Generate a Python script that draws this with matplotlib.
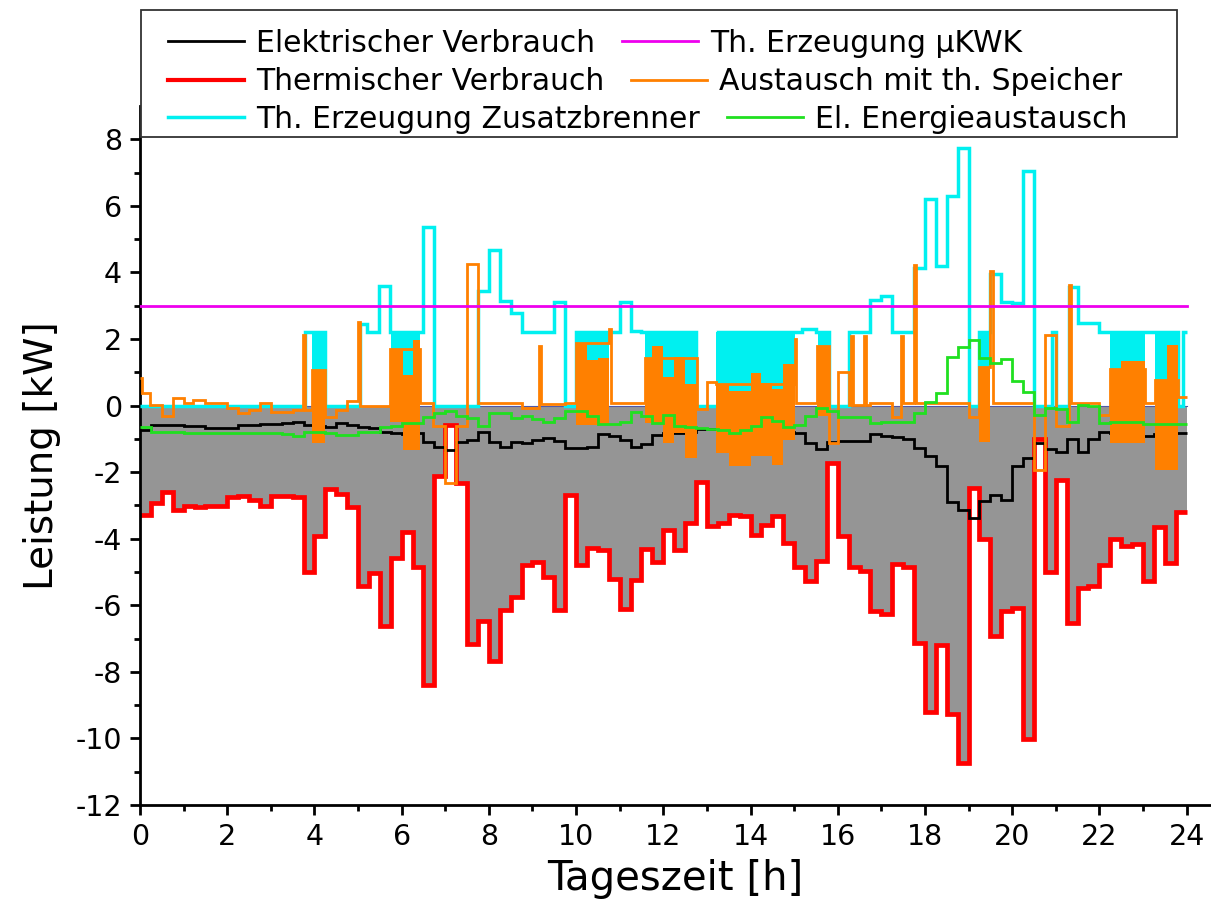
import numpy as np
import matplotlib
matplotlib.use('Agg')
import matplotlib.pyplot as plt
from matplotlib.lines import Line2D
from matplotlib.patches import Rectangle

plt.rcParams['font.family'] = 'DejaVu Sans'
plt.rcParams['axes.unicode_minus'] = False

# 15-min time grid
edges = np.arange(97) * 0.25

# Thermischer Verbrauch [kW], 15-min values
therm = [-3.28, -2.93, -2.61, -3.13, -3.01, -3.06, -3.01, -3.01,
         -2.75, -2.71, -2.83, -3.03, -2.71, -2.71, -2.76, -5.01,
         -3.93, -2.50, -2.66, -3.05, -5.41, -5.03, -6.61, -4.58,
         -3.81, -4.86, -8.38, -2.13, -0.58, -2.33, -7.15, -6.46,
         -7.68, -6.15, -5.75, -4.78, -4.71, -5.15, -6.13, -2.68,
         -4.78, -4.28, -4.35, -5.21, -6.11, -5.23, -4.31, -4.71,
         -3.73, -4.35, -3.53, -2.31, -3.61, -3.53, -3.30, -3.33,
         -3.88, -3.58, -3.33, -4.13, -4.86, -5.28, -4.68, -1.73,
         -3.93, -4.85, -4.98, -6.18, -6.25, -4.75, -4.85, -7.13,
         -9.21, -7.18, -9.28, -10.75, -2.48, -4.01, -6.93, -6.18,
         -6.08, -10.03, -1.01, -5.01, -2.23, -6.53, -5.48, -5.41,
         -4.80, -4.01, -4.23, -4.16, -5.26, -3.65, -4.73, -3.20]

# Elektrischer Verbrauch [kW]
elec = [-0.74, -0.59, -0.59, -0.59, -0.61, -0.61, -0.68, -0.68,
        -0.68, -0.59, -0.57, -0.55, -0.55, -0.53, -0.50, -0.57,
        -0.61, -0.63, -0.53, -0.57, -0.65, -0.66, -0.78, -0.83,
        -0.85, -0.83, -1.08, -1.25, -1.33, -1.08, -1.03, -0.78,
        -1.08, -1.23, -1.08, -1.11, -1.03, -0.96, -1.05, -1.28,
        -1.28, -1.23, -0.86, -0.91, -1.03, -1.25, -1.15, -0.88,
        -0.83, -0.81, -0.80, -0.71, -0.71, -0.78, -0.85, -0.90,
        -0.85, -0.80, -0.78, -0.80, -0.83, -1.13, -1.31, -1.10,
        -1.05, -1.05, -1.05, -0.86, -0.91, -0.93, -1.01, -1.28,
        -1.53, -1.81, -2.91, -3.15, -3.38, -2.88, -2.69, -2.83,
        -1.83, -1.58, -1.11, -1.31, -1.38, -1.01, -1.38, -1.01,
        -0.78, -0.81, -0.91, -0.96, -0.91, -0.86, -0.83, -0.83]

# El. Energieaustausch [kW]
el_exch = [-0.65, -0.78, -0.78, -0.78, -0.81, -0.81, -0.81, -0.81,
           -0.81, -0.81, -0.83, -0.83, -0.83, -0.85, -0.90, -0.78,
           -0.78, -0.81, -0.88, -0.88, -0.78, -0.78, -0.65, -0.61,
           -0.53, -0.53, -0.35, -0.23, -0.15, -0.31, -0.38, -0.61,
           -0.23, -0.23, -0.38, -0.31, -0.41, -0.48, -0.38, -0.15,
           -0.15, -0.31, -0.55, -0.55, -0.48, -0.18, -0.31, -0.53,
           -0.28, -0.61, -0.65, -0.68, -0.71, -0.73, -0.81, -0.73,
           -0.61, -0.33, -0.45, -0.65, -0.58, -0.31, -0.08, -0.15,
           -0.33, -0.33, -0.33, -0.53, -0.50, -0.50, -0.50, -0.23,
           0.12, 0.39, 1.47, 1.75, 1.97, 1.42, 1.27, 1.39,
           0.75, 0.42, -0.28, -0.08, -0.10, -0.48, 0.02, 0.00,
           -0.53, -0.50, -0.50, -0.48, -0.56, -0.56, -0.56, -0.56]

# Th. Erzeugung uKWK (constant)
chp_power = 3.0

# Th. Erzeugung Zusatzbrenner: change times [h] and values [kW]
burner_t = [0, 3.78, 4.24, 5.05, 5.2, 5.47, 5.73, 6.5, 6.75, 7.76,
            8.0, 8.25, 8.5, 8.75, 9.5, 9.75, 10.0, 11.0, 11.25, 11.5,
            12.75, 13.25, 15.17, 15.5, 15.8, 16.25, 16.75, 17.0, 17.25, 17.75,
            18.0, 18.25, 18.5, 18.75, 19.0, 19.25, 19.5, 19.75, 20.0, 20.25,
            20.5, 20.92, 21.0, 21.3, 21.5, 22.0, 23.8, 23.92]
burner_v = [0, 2.2, 0, 2.44, 2.2, 3.6, 2.2, 5.37, 0, 3.45,
            4.67, 3.15, 2.79, 2.2, 3.12, 0, 2.2, 3.12, 2.24, 2.2,
            0, 2.2, 2.3, 2.2, 0, 2.2, 3.17, 3.29, 2.2, 4.14,
            6.22, 4.19, 6.29, 7.75, 0, 2.2, 3.95, 3.12, 3.09, 7.05,
            0, 2.2, 0, 3.55, 2.47, 2.2, 0, 2.2]
# intervals where the burner is cycling on/off (0 <-> 2.2 kW)
burner_cyc_start = [3.94, 5.75, 10.0, 11.58, 13.22, 15.55, 19.25, 22.25, 23.28]
burner_cyc_end = [4.24, 6.42, 10.75, 12.77, 15.02, 15.8, 19.5, 23.05, 23.8]
burner_cyc_level = 2.2

# Austausch mit th. Speicher: change times [h] and values [kW]
store_t = [0, 0.04, 0.23, 0.5, 0.76, 1.0, 1.22, 1.49, 2.0, 2.25,
           2.5, 2.75, 3.0, 3.5, 3.73, 3.78, 3.94, 4.24, 4.5, 4.75,
           5.0, 5.05, 5.73, 6.42, 6.73, 7.0, 7.25, 7.5, 7.76, 8.75,
           9.15, 9.2, 9.75, 10.0, 10.75, 10.8, 11.58, 12.77, 13.0, 13.22,
           15.02, 15.05, 15.52, 15.8, 16.0, 16.25, 16.3, 16.34, 16.6, 16.64,
           16.75, 17.25, 17.45, 17.5, 17.74, 17.8, 19.0, 19.25, 19.5, 19.57,
           20.5, 20.75, 21.0, 21.3, 21.35, 22.0, 22.25, 23.05, 23.28, 23.8]
store_v = [0.82, 0.37, 0.02, -0.31, 0.24, 0.09, 0.17, 0.09, -0.08, -0.21,
           -0.13, 0.09, -0.18, -0.13, 2.12, -0.13, 1.07, -0.34, -0.12, 0.13,
           2.52, 0.0, 1.69, 0.09, -0.62, -2.32, -0.62, 4.25, 0.09, -0.08,
           1.79, 0.05, 0.07, 1.87, 2.29, 0.09, 1.44, -0.10, 0.72, 0.65,
           1.99, 0.07, 1.79, -1.13, 1.02, 0.02, 2.1, 0.02, 2.1, 0.02,
           0.09, -0.33, 2.1, 0.09, 4.22, 0.09, -0.35, 1.15, 4.05, 0.09,
           -1.93, 2.12, -0.61, 3.62, 0.09, -0.28, 1.09, 0.09, 0.77, 0.27]
# cycling intervals of the storage exchange: start, end, min, max [kW]
store_cyc_start = [3.94, 5.73, 6.04, 6.27, 10.0, 10.25, 10.5, 11.58, 11.75, 12.0,
                   12.25, 12.5, 13.22, 13.5, 14.0, 14.25, 14.5, 14.75, 15.52, 19.25,
                   22.25, 22.5, 23.28, 23.55]
store_cyc_end = [4.24, 6.04, 6.27, 6.42, 10.25, 10.5, 10.75, 11.75, 12.0, 12.25,
                 12.5, 12.77, 13.5, 14.0, 14.25, 14.5, 14.75, 15.02, 15.8, 19.5,
                 22.5, 23.05, 23.55, 23.8]
store_cyc_lo = [-1.13, -0.5, -1.33, -1.33, -0.58, -0.58, -0.58, -0.53, -0.53, -1.13,
                -0.83, -1.58, -1.43, -1.81, -1.53, -1.53, -1.78, -1.03, -0.3, -1.08,
                -1.13, -1.13, -1.93, -1.93]
store_cyc_hi = [1.07, 1.69, 0.92, 1.97, 1.87, 1.37, 1.44, 1.44, 1.79, 0.85,
                1.47, 0.65, 0.65, 0.44, 0.99, 0.69, 0.49, 1.24, 1.79, 1.15,
                1.09, 1.34, 0.77, 1.82]

C_RED = '#ff0000'
C_CYAN = '#00f0f0'
C_ORANGE = '#ff8000'
C_GREEN = '#20e020'
C_MAG = '#ee00ee'
C_GRAY = '#959595'

fig = plt.figure(figsize=(12.11, 9.17), dpi=100)
ax = fig.add_axes([140/1211, 112/917, 1071/1211, 699/917])

# gray area: thermal demand
ax.stairs(therm, edges, baseline=0, fill=True, color=C_GRAY, lw=0, zorder=1)
ax.plot([0, 24], [0, 0], color='#5058a8', lw=0.8, zorder=1.5)
ax.stairs(therm, edges, baseline=None, color=C_RED, lw=3.4, zorder=2)
ax.stairs(elec, edges, baseline=None, color='black', lw=2.0, zorder=3)

# burner
burner_edges = burner_t + [24]
cyc_w = np.array(burner_cyc_end) - np.array(burner_cyc_start)
ax.bar(burner_cyc_start, burner_cyc_level, width=cyc_w, bottom=0, align='edge',
       color=C_CYAN, lw=0, zorder=4)
ax.stairs(burner_v, burner_edges, baseline=None, color=C_CYAN, lw=2.5, zorder=4)

# storage
store_edges = store_t + [24]
sw = np.array(store_cyc_end) - np.array(store_cyc_start)
sh = np.array(store_cyc_hi) - np.array(store_cyc_lo)
ax.bar(store_cyc_start, sh, width=sw, bottom=store_cyc_lo, align='edge',
       color=C_ORANGE, lw=0, zorder=5)
ax.stairs(store_v, store_edges, baseline=None, color=C_ORANGE, lw=2.0, zorder=5)

ax.stairs(el_exch, edges, baseline=None, color=C_GREEN, lw=2.0, zorder=6)
ax.plot([0, 24], [chp_power, chp_power], color=C_MAG, lw=2.0, zorder=7)

ax.set_xlim(0, 24.56)
ax.set_ylim(-12, 9)
ax.set_xticks(np.arange(0, 25, 2))
ax.set_xticks(np.arange(0, 25, 1), minor=True)
ax.set_yticks(np.arange(-12, 9, 2))
ax.set_yticks(np.arange(-12, 9, 1), minor=True)
for s in ['top', 'right']:
    ax.spines[s].set_visible(False)
for s in ['left', 'bottom']:
    ax.spines[s].set_linewidth(2.0)
ax.tick_params(which='major', length=7, width=2.0, labelsize=20.5, pad=6)
ax.tick_params(which='minor', length=4.5, width=2.0)
ax.set_xlabel('Tageszeit [h]', fontsize=29, labelpad=6)
ax.set_ylabel('Leistung [kW]', fontsize=28, labelpad=10)

# legend: one row each, inside a common frame
rows = [
    [(Line2D([], [], color='black', lw=2), 'Elektrischer Verbrauch'),
     (Line2D([], [], color=C_MAG, lw=2), 'Th. Erzeugung µKWK')],
    [(Line2D([], [], color=C_RED, lw=3), 'Thermischer Verbrauch'),
     (Line2D([], [], color=C_ORANGE, lw=2), 'Austausch mit th. Speicher')],
    [(Line2D([], [], color=C_CYAN, lw=2.5), 'Th. Erzeugung Zusatzbrenner'),
     (Line2D([], [], color=C_GREEN, lw=2), 'El. Energieaustausch')],
]
row_y = [43, 82, 119]
fig.patches.append(Rectangle((141/1211, 1 - 137/917), 1036/1211, 127/917,
                             transform=fig.transFigure, facecolor='white',
                             edgecolor='#333333', lw=1.3, zorder=10))
for items, yy in zip(rows, row_y):
    h, l = zip(*items)
    leg = fig.legend(h, l, loc='center left', bbox_to_anchor=(168/1211, 1 - yy/917),
                     ncol=2, frameon=False, fontsize=21.5, handlelength=2.55,
                     handletextpad=0.4, columnspacing=0.9, borderpad=0,
                     borderaxespad=0)
    leg.set_zorder(11)

fig.savefig('out.png', dpi=100)
